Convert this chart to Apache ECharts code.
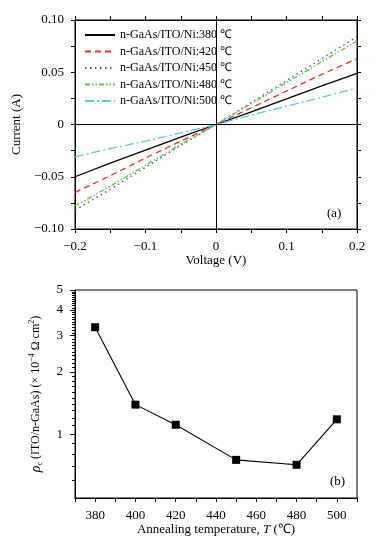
<!DOCTYPE html>
<html><head><meta charset="utf-8">
<script src="https://cdn.jsdelivr.net/npm/echarts@6/dist/echarts.min.js"></script>
<style>html,body{margin:0;padding:0;background:#fff}#c{width:392px;height:542px}</style>
</head><body><div id="c"></div>
<script>
// ---- data: panel (a) I-V curves ----
const voltage = [-0.2, -0.15, -0.1, -0.05, 0, 0.05, 0.1, 0.15, 0.2];
const seriesNames = ['n-GaAs/ITO/Ni:380 ℃','n-GaAs/ITO/Ni:420 ℃','n-GaAs/ITO/Ni:450 ℃','n-GaAs/ITO/Ni:480 ℃','n-GaAs/ITO/Ni:500 ℃'];
const current380 = [-0.050, -0.037, -0.0245, -0.012, 0, 0.012, 0.0245, 0.037, 0.049];
const current420 = [-0.065, -0.049, -0.032, -0.016, 0, 0.016, 0.032, 0.048, 0.063];
const current450 = [-0.082, -0.062, -0.041, -0.020, 0, 0.021, 0.042, 0.063, 0.084];
const current480 = [-0.078, -0.059, -0.039, -0.019, 0, 0.020, 0.040, 0.060, 0.080];
const current500 = [-0.031, -0.023, -0.016, -0.008, 0, 0.009, 0.0175, 0.026, 0.035];
const ivTicksY = [-0.1, -0.05, 0, 0.05, 0.1];
const ivTicksX = [-0.2, -0.1, 0, 0.1, 0.2];
// ---- data: panel (b) contact resistivity ----
const temperature = [380, 400, 420, 450, 480, 500];
const rho = [3.3, 1.39, 1.11, 0.75, 0.71, 1.18];
const rhoMajorTicks = [1, 2, 3, 4, 5];
const rhoMinorTicks = [0.6,0.7,0.8,0.9,1.1,1.2,1.3,1.4,1.5,1.6,1.7,1.8,1.9,2.1,2.2,2.3,2.4,2.5,2.6,2.7,2.8,2.9,3.1,3.2,3.3,3.4,3.5,3.6,3.7,3.8,3.9,4.1,4.2,4.3,4.4,4.5,4.6,4.7,4.8,4.9];
const tempLabels = [380, 400, 420, 440, 460, 480, 500];

const FONT = 'Liberation Serif';
const currents = [current380, current420, current450, current480, current500];
const colors = ['#000000', '#e8322a', '#3a4fd6', '#5fc83a', '#5fc8e0'];
const dashes = ['solid', [6, 4], [1.5, 3.5], [5, 2, 1.5, 2, 1.5, 2], [9, 3, 2, 3]];

function fmt(v, d) {
  if (Math.abs(v) < 1e-9) return '0';
  const s = Math.abs(v).toFixed(d);
  return v < 0 ? '\u2212' + s : s;
}
const black = {color: '#000', width: 1};
const tickStyle = {show: true, inside: false, length: 4, lineStyle: black};

const series = currents.map((arr, i) => ({
  name: seriesNames[i], type: 'line', xAxisIndex: 0, yAxisIndex: 0,
  data: voltage.map((v, j) => [v, arr[j]]),
  showSymbol: false, symbol: 'none', silent: true,
  lineStyle: {color: colors[i], width: 1.3, type: dashes[i]},
  itemStyle: {color: colors[i]},
  z: 3
}));
series[0].markLine = {
  silent: true, symbol: 'none', animation: false,
  label: {show: false},
  lineStyle: {color: '#000', width: 1, type: 'solid'},
  data: [{yAxis: 0}, {xAxis: 0}]
};
series.push({
  type: 'line', xAxisIndex: 2, yAxisIndex: 2,
  data: temperature.map((t, j) => [t, rho[j]]),
  symbol: 'rect', symbolSize: 8, silent: true,
  lineStyle: {color: '#000', width: 1.1},
  itemStyle: {color: '#000'}
});

const option = {
  animation: false,
  backgroundColor: '#fff',
  textStyle: {fontFamily: FONT, color: '#000'},
  grid: [
    {left: 75, top: 20, width: 282, height: 209, show: true, borderColor: '#000', borderWidth: 1},
    {left: 75, top: 290, width: 282, height: 208, show: true, borderColor: '#000', borderWidth: 1}
  ],
  legend: {
    orient: 'vertical', left: 79, top: 24, itemWidth: 30, itemHeight: 12, itemGap: 4.5,
    data: seriesNames, selectedMode: false,
    itemStyle: {opacity: 0, borderWidth: 0},
    textStyle: {fontFamily: FONT, fontSize: 12, color: '#000'}
  },
  xAxis: [
    {type: 'value', gridIndex: 0, min: -0.2, max: 0.2, interval: 0.05,
     axisLine: {show: true, onZero: false, lineStyle: black}, axisTick: tickStyle,
     splitLine: {show: false},
     axisLabel: {customValues: ivTicksX, fontFamily: FONT, fontSize: 13, color: '#000', margin: 11, formatter: v => fmt(v, 1)},
     name: 'Voltage (V)', nameLocation: 'middle', nameGap: 23,
     nameTextStyle: {fontFamily: FONT, fontSize: 13, color: '#000'}},
    {type: 'value', gridIndex: 0, position: 'top', min: -0.2, max: 0.2, interval: 0.05,
     axisLine: {show: true, onZero: false, lineStyle: black}, axisTick: tickStyle,
     splitLine: {show: false}, axisLabel: {show: false}},
    {type: 'value', gridIndex: 1, min: 370, max: 510, interval: 10,
     axisLine: {show: true, onZero: false, lineStyle: black}, axisTick: tickStyle,
     splitLine: {show: false},
     axisLabel: {customValues: tempLabels, fontFamily: FONT, fontSize: 13, color: '#000', margin: 11},
     name: '{n|Annealing temperature, }{i|T}{n| (℃)}', nameLocation: 'middle', nameGap: 24,
     nameTextStyle: {fontFamily: FONT, fontSize: 13, color: '#000',
       rich: {n: {fontFamily: FONT, fontSize: 13, color: '#000'}, i: {fontFamily: FONT, fontSize: 13, fontStyle: 'italic', color: '#000'}}}}
  ],
  yAxis: [
    {type: 'value', gridIndex: 0, min: -0.1, max: 0.1, interval: 0.025,
     axisLine: {show: true, onZero: false, lineStyle: black}, axisTick: tickStyle,
     splitLine: {show: false},
     axisLabel: {customValues: ivTicksY, fontFamily: FONT, fontSize: 13, color: '#000', margin: 11, formatter: v => fmt(v, 2)},
     name: 'Current (A)', nameLocation: 'middle', nameGap: 44,
     nameTextStyle: {fontFamily: FONT, fontSize: 13, color: '#000'}},
    {type: 'value', gridIndex: 0, position: 'right', min: -0.1, max: 0.1, interval: 0.025,
     axisLine: {show: true, onZero: false, lineStyle: black}, axisTick: tickStyle,
     splitLine: {show: false}, axisLabel: {show: false}},
    {type: 'log', logBase: 10, gridIndex: 1, position: 'left', min: 0.49, max: 5,
     axisLine: {show: true, onZero: false, lineStyle: black},
     axisTick: {show: true, inside: false, length: 5, lineStyle: black, customValues: rhoMajorTicks},
     splitLine: {show: false}, minorTick: {show: false},
     axisLabel: {customValues: rhoMajorTicks, fontFamily: FONT, fontSize: 13, color: '#000', margin: 12},
     name: '{i|ρ}{s|c}{n| (ITO/n-GaAs) (× 10}{u|−4}{n| Ω cm}{u|2}{n|)}',
     nameLocation: 'middle', nameGap: 31,
     nameTextStyle: {fontFamily: FONT, fontSize: 12, color: '#000',
       rich: {
         n: {fontFamily: FONT, fontSize: 12, color: '#000', lineHeight: 16},
         i: {fontFamily: FONT, fontSize: 14, fontStyle: 'italic', color: '#000', lineHeight: 16},
         s: {fontFamily: FONT, fontSize: 8, color: '#000', verticalAlign: 'bottom', lineHeight: 16, padding: [6, 0, 0, 0]},
         u: {fontFamily: FONT, fontSize: 8, color: '#000', verticalAlign: 'top', lineHeight: 16, padding: [0, 0, 6, 0]}
       }}},
    {type: 'log', logBase: 10, gridIndex: 1, position: 'left', min: 0.49, max: 5,
     axisLine: {show: false},
     axisTick: {show: true, inside: false, length: 3, lineStyle: black, customValues: rhoMinorTicks},
     splitLine: {show: false}, axisLabel: {show: false}}
  ],
  graphic: [
    {type: 'text', left: 327, top: 207, style: {text: '(a)', font: '13px "Liberation Serif"', fill: '#000'}},
    {type: 'text', left: 330, top: 475, style: {text: '(b)', font: '13px "Liberation Serif"', fill: '#000'}}
  ],
  series: series
};
const chart = echarts.init(document.getElementById('c'), null, {renderer: 'canvas'});
chart.setOption(option);
</script>
</body></html>
